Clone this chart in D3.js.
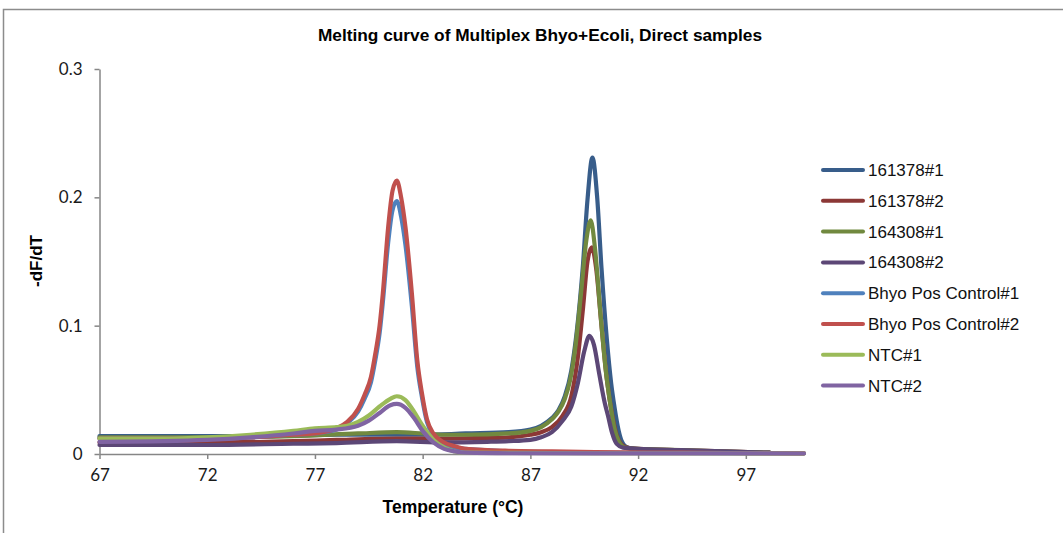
<!DOCTYPE html>
<html>
<head>
<meta charset="utf-8">
<script src="https://cdn.jsdelivr.net/npm/d3@7"></script>
<style>
  html, body { margin: 0; padding: 0; background: #fff; }
  svg { display: block; }
</style>
</head>
<body>
<svg id="chart" width="1063" height="533"></svg>
<script>
// Melting curve data: [temperature °C, -dF/dT]
const s161378_1 = [
  [67,0.014],[70,0.014],[72,0.014],[75,0.014],[78,0.015],[80,0.015],[82,0.015],[84,0.016],
  [86,0.017],[87,0.019],[87.5,0.022],[88,0.028],[88.3,0.034],[88.6,0.045],[88.9,0.065],
  [89.15,0.095],[89.43,0.145],[89.65,0.198],[89.88,0.231],[90.1,0.200],[90.3,0.145],
  [90.55,0.089],[90.75,0.055],[90.9,0.037],[91.1,0.018],[91.24,0.010],[91.5,0.005],
  [92,0.0035],[93,0.003],[94,0.0025],[95,0.002],[96,0.0015],[97,0.001],[98.1,0.0008]
];
const s161378_2 = [
  [67,0.009],[72,0.009],[76,0.010],[78,0.011],[80.8,0.012],[83,0.012],[85,0.0125],[86,0.013],
  [87,0.015],[87.5,0.017],[88,0.021],[88.5,0.030],[88.9,0.045],[89.2,0.075],[89.45,0.115],
  [89.65,0.150],[89.85,0.161],[90.05,0.145],[90.3,0.100],[90.55,0.058],[90.8,0.030],
  [91.0,0.015],[91.2,0.008],[91.5,0.005],[92,0.004],[94,0.003],[96,0.002],[98.1,0.001]
];
const s164308_1 = [
  [67,0.013],[72,0.013],[76,0.014],[79,0.016],[80.8,0.017],[82,0.016],[83,0.015],[84,0.015],
  [86,0.016],[87,0.018],[87.5,0.021],[88,0.027],[88.3,0.033],[88.6,0.043],[88.85,0.058],
  [89.1,0.085],[89.35,0.125],[89.6,0.167],[89.8,0.182],[90.0,0.160],[90.25,0.110],
  [90.5,0.065],[90.7,0.040],[90.9,0.020],[91.1,0.010],[91.4,0.005],[92,0.004],[93,0.0035],
  [95,0.0025],[97,0.0015],[98.1,0.001]
];
const s164308_2 = [
  [67,0.007],[72,0.007],[76,0.008],[78,0.0085],[80.8,0.010],[83,0.009],[85,0.0095],[86,0.010],
  [87,0.011],[87.5,0.013],[88,0.017],[88.5,0.026],[88.9,0.037],[89.2,0.055],[89.5,0.080],
  [89.74,0.092],[89.95,0.085],[90.2,0.062],[90.45,0.040],[90.6,0.030],[90.8,0.016],
  [91.0,0.008],[91.3,0.005],[92,0.004],[94,0.003],[96,0.002],[98.1,0.001]
];
const bhyoPos_1 = [
  [67,0.012],[70,0.012],[72,0.012],[74,0.013],[76,0.015],[77,0.016],[78,0.019],[78.5,0.024],
  [79,0.033],[79.3,0.043],[79.6,0.056],[79.8,0.073],[80.0,0.094],[80.15,0.118],[80.4,0.165],
  [80.6,0.190],[80.8,0.197],[81.0,0.185],[81.2,0.163],[81.5,0.115],[81.75,0.068],
  [81.97,0.044],[82.2,0.025],[82.5,0.015],[83,0.008],[83.5,0.005],[84,0.004],[85,0.003],
  [86,0.002],[88,0.0015],[90,0.001],[94,0.0008],[99.7,0.0005]
];
const bhyoPos_2 = [
  [67,0.012],[70,0.012],[72,0.012],[74,0.013],[76,0.015],[77,0.016],[78,0.020],[78.5,0.025],
  [79,0.035],[79.3,0.046],[79.6,0.060],[79.8,0.078],[80.0,0.100],[80.15,0.125],[80.4,0.177],
  [80.6,0.205],[80.8,0.213],[81.0,0.200],[81.2,0.177],[81.5,0.125],[81.75,0.073],
  [81.97,0.047],[82.2,0.027],[82.5,0.016],[83,0.009],[83.5,0.006],[84,0.004],[85,0.003],
  [86,0.0025],[88,0.002],[90,0.0015],[94,0.001],[99.7,0.0005]
];
const ntc_1 = [
  [67,0.012],[70,0.012],[72,0.013],[74,0.015],[76,0.018],[77,0.020],[78,0.021],[78.5,0.022],
  [79,0.025],[79.5,0.030],[80,0.037],[80.5,0.043],[80.8,0.045],[81.2,0.042],[81.6,0.033],
  [82,0.022],[82.5,0.011],[83,0.005],[83.5,0.002],[84,0.001],[86,0.0008],[90,0.0006],
  [99.7,0.0004]
];
const ntc_2 = [
  [67,0.0095],[70,0.010],[72,0.011],[74,0.013],[76,0.016],[77,0.018],[78,0.019],[79,0.022],
  [79.5,0.026],[80,0.032],[80.5,0.038],[80.8,0.039],[81.2,0.036],[81.6,0.028],[82,0.018],
  [82.5,0.009],[83,0.004],[83.5,0.002],[84,0.001],[86,0.0006],[90,0.0005],[99.7,0.0004]
];

const seriesNames = [
  "161378#1","161378#2","164308#1","164308#2",
  "Bhyo Pos Control#1","Bhyo Pos Control#2","NTC#1","NTC#2"
];
const seriesData = [s161378_1, s161378_2, s164308_1, s164308_2, bhyoPos_1, bhyoPos_2, ntc_1, ntc_2];
const seriesColors = ["#385D8A","#8C3836","#71893F","#5C4776","#4F81BD","#C0504D","#9BBB59","#8064A2"];

const xTicks = [67, 72, 77, 82, 87, 92, 97];
const yTicks = [0, 0.1, 0.2, 0.3];
const yTickLabels = ["0", "0.1", "0.2", "0.3"];

const titleText = "Melting curve of Multiplex Bhyo+Ecoli, Direct samples";
const xTitle = "Temperature (°C)";
const yTitle = "-dF/dT";

const svg = d3.select("#chart");
const W = 1063, H = 533;

// chart frame
svg.append("rect")
  .attr("x", 3.5).attr("y", 9.5)
  .attr("width", W + 10).attr("height", H + 10)
  .attr("fill", "#fff").attr("stroke", "#8c8c8c").attr("stroke-width", 1.5);

const x = d3.scaleLinear().domain([67, 99.7]).range([99.5, 804]);
const y = d3.scaleLinear().domain([0, 0.3]).range([454, 69]);

const axisColor = "#868686";
const tickFont = "Lato, 'Open Sans', sans-serif";

// y axis
const yAxis = svg.append("g")
  .attr("transform", `translate(${x.range()[0]},0)`)
  .call(d3.axisLeft(y).tickValues(yTicks)
    .tickFormat((d, i) => yTickLabels[i])
    .tickSize(5).tickSizeOuter(0).tickPadding(12));

// x axis
const xAxis = svg.append("g")
  .attr("transform", `translate(0,${y(0)})`)
  .call(d3.axisBottom(x).tickValues(xTicks)
    .tickFormat(d3.format("d"))
    .tickSize(5).tickSizeOuter(0).tickPadding(10));

[yAxis, xAxis].forEach(g => {
  g.select(".domain").attr("stroke", axisColor).attr("stroke-width", 1.5);
  g.selectAll(".tick line").attr("stroke", axisColor).attr("stroke-width", 1.5);
  g.selectAll(".tick text")
    .attr("fill", "#1a1a1a")
    .style("font-family", tickFont)
    .style("font-size", "17px");
});

// curves
const line = d3.line()
  .x(d => x(d[0]))
  .y(d => y(d[1]))
  .curve(d3.curveMonotoneX);

const plot = svg.append("g");
seriesData.forEach((data, i) => {
  plot.append("path")
    .datum(data)
    .attr("d", line)
    .attr("fill", "none")
    .attr("stroke", seriesColors[i])
    .attr("stroke-width", 4.2)
    .attr("stroke-linejoin", "round")
    .attr("stroke-linecap", "round");
});

// titles
const labelFont = "'Liberation Sans', Arial, sans-serif";
svg.append("text")
  .attr("x", 540).attr("y", 41)
  .attr("text-anchor", "middle")
  .style("font-family", labelFont).style("font-weight", "bold").style("font-size", "17.3px")
  .attr("fill", "#000")
  .text(titleText);

svg.append("text")
  .attr("x", 453).attr("y", 513)
  .attr("text-anchor", "middle")
  .style("font-family", labelFont).style("font-weight", "bold").style("font-size", "17.5px")
  .attr("fill", "#000")
  .text(xTitle);

svg.append("text")
  .attr("transform", "translate(42,261) rotate(-90)")
  .attr("text-anchor", "middle")
  .style("font-family", labelFont).style("font-weight", "bold").style("font-size", "17px")
  .attr("fill", "#000")
  .text(yTitle);

// legend
const legend = svg.append("g").attr("transform", "translate(823,170)");
const rowH = 30.8;
seriesNames.forEach((name, i) => {
  const row = legend.append("g").attr("transform", `translate(0,${i * rowH})`);
  row.append("line")
    .attr("x1", 0).attr("x2", 40).attr("y1", 0).attr("y2", 0)
    .attr("stroke", seriesColors[i]).attr("stroke-width", 4)
    .attr("stroke-linecap", "round");
  row.append("text")
    .attr("x", 45).attr("y", 0).attr("dy", "0.35em")
    .style("font-family", labelFont).style("font-size", "17px")
    .attr("fill", "#111")
    .text(name);
});
</script>
</body>
</html>
